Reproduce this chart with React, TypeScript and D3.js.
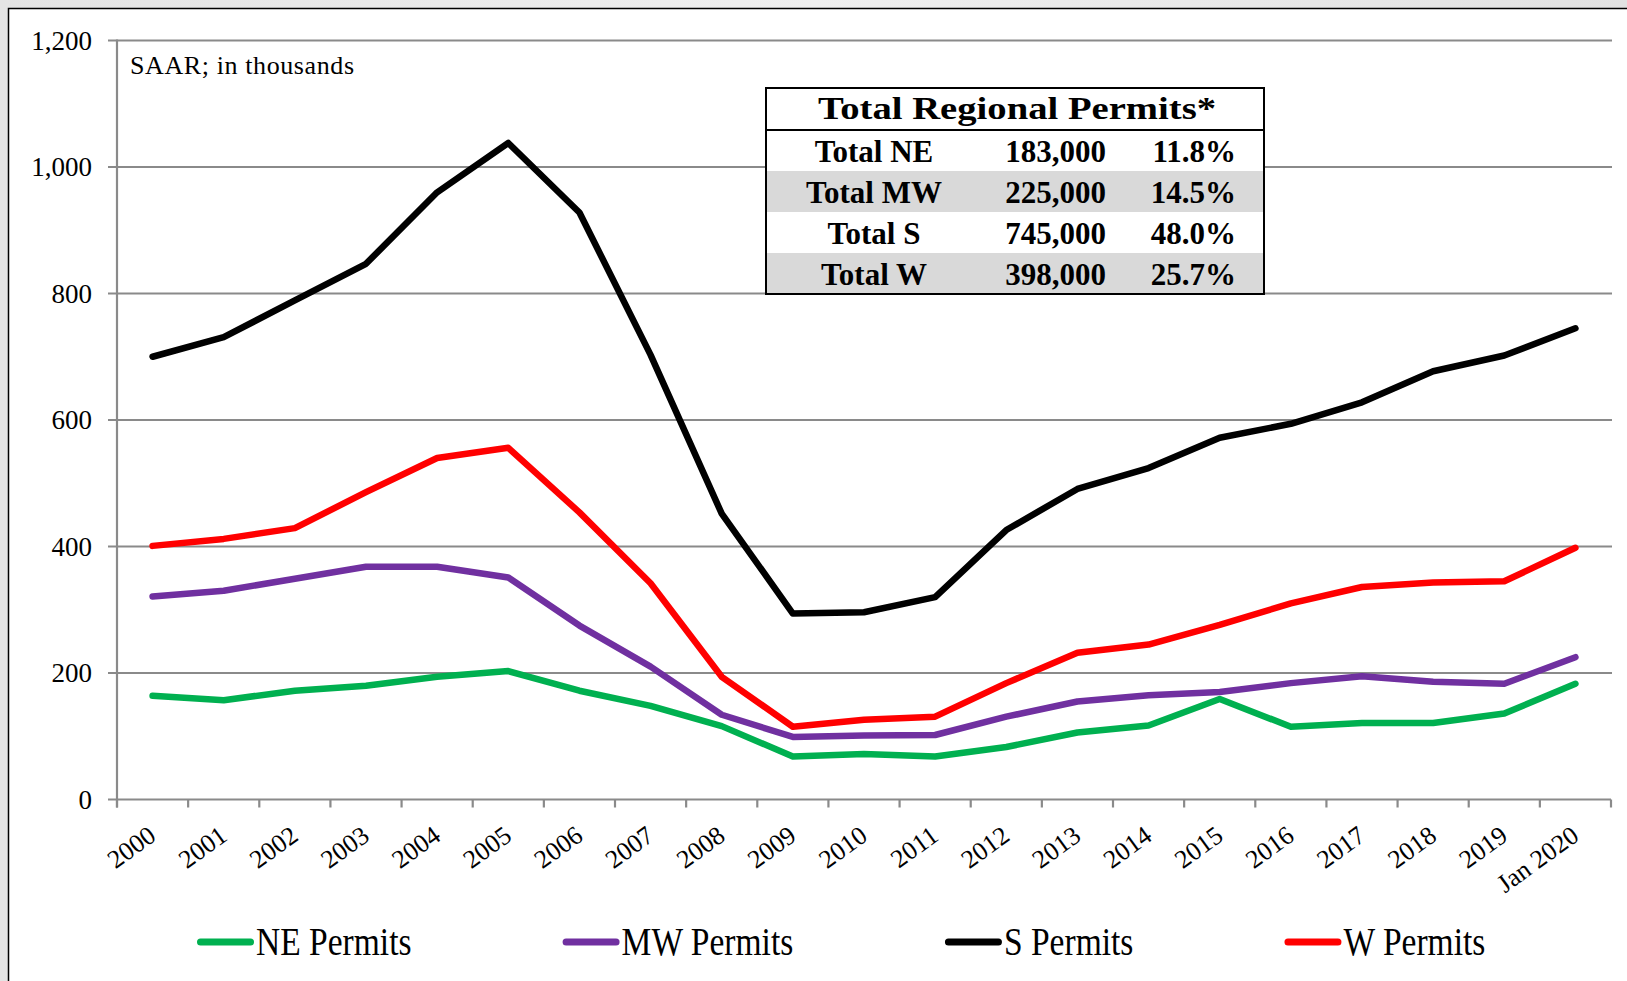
import React from "react";
import * as d3 from "d3";

// Regional building permits, SAAR, in thousands
const years = [
  "2000", "2001", "2002", "2003", "2004", "2005", "2006", "2007", "2008", "2009", "2010",
  "2011", "2012", "2013", "2014", "2015", "2016", "2017", "2018", "2019", "Jan 2020",
];
const nePermits = [164, 157, 172, 180, 194, 203, 172, 148, 116, 68, 72, 68, 83, 106, 117, 159, 115, 121, 121, 136, 183];
const mwPermits = [321, 330, 349, 368, 368, 351, 275, 210, 134, 99, 101, 102, 131, 155, 165, 170, 184, 195, 186, 183, 225];
const sPermits = [700, 731, 789, 847, 960, 1038, 928, 703, 452, 294, 296, 320, 426, 491, 524, 572, 594, 628, 677, 702, 745];
const wPermits = [401, 412, 429, 486, 540, 556, 454, 342, 194, 115, 126, 131, 184, 232, 245, 276, 310, 336, 343, 345, 398];

const seriesNames = ["NE Permits", "MW Permits", "S Permits", "W Permits"];
const seriesColors = ["#00b050", "#7030a0", "#000000", "#ff0000"];

// inset table
const tableTitle = "Total Regional Permits*";
const tableRegions = ["Total NE", "Total MW", "Total S", "Total W"];
const tableTotals = [183000, 225000, 745000, 398000];
const tableShares = [11.8, 14.5, 48.0, 25.7];

const W = 1627;
const H = 981;
const FONT = "'Liberation Serif', 'Times New Roman', serif";

const measure = (txt: string, font: string) => {
  const c = document.createElement("canvas").getContext("2d");
  if (!c) return txt.length * 15;
  c.font = font;
  return c.measureText(txt).width;
};

export default function App() {
  const x = d3.scaleBand<string>().domain(years).range([117, 1611]).paddingInner(0).paddingOuter(0);
  const y = d3.scaleLinear().domain([0, 1200]).range([799.5, 40.5]);
  const cx = (i: number) => (x(years[i]) as number) + x.bandwidth() / 2;

  const line = d3
    .line<number>()
    .x((_, i) => cx(i))
    .y((d) => y(d));

  const allSeries = [nePermits, mwPermits, sPermits, wPermits];
  const fmt = d3.format(",");
  const yTicks = y.ticks(6);

  // table geometry
  const tLeft = 766, tRight = 1264, tTop = 88, titleH = 42, rowH = 41;

  // legend layout: constant gap between items
  const legFont = 39, legScale = 0.86, swatch = 57, legGap = 151;
  let lx = 197;
  const legendItems = seriesNames.map((name, i) => {
    const tw = measure(name, `${legFont}px 'Liberation Serif'`) * legScale;
    const item = { name, color: seriesColors[i], x: lx, tw };
    lx += swatch + 2 + tw + legGap;
    return item;
  });

  return (
    <div style={{ position: "absolute", left: 0, top: 0 }}>
      <svg width={W} height={H} style={{ display: "block" }} fontFamily={FONT}>
        <defs>
          <linearGradient id="bg" x1="0" y1="0" x2="1" y2="0">
            <stop offset="0" stopColor="#e4e4e4" />
            <stop offset="0.5" stopColor="#efefef" />
            <stop offset="1" stopColor="#e2e2e2" />
          </linearGradient>
        </defs>
        <rect x={0} y={0} width={W} height={H} fill="url(#bg)" />
        <rect x={8.5} y={8.5} width={W + 20} height={H + 20} fill="#ffffff" stroke="#000" strokeWidth={1.5} />

        {/* gridlines */}
        {yTicks.map((t) => (
          <g key={t}>
            <line x1={108} x2={t === 0 ? 1611 : 1612} y1={y(t)} y2={y(t)} stroke="#8a8a8a" strokeWidth={2.2} />
            <text x={92} y={y(t) + 9} fontSize={27} textAnchor="end" fill="#000">
              {fmt(t)}
            </text>
          </g>
        ))}
        {/* y axis */}
        <line x1={117} x2={117} y1={y(1200) - 1} y2={y(0) + 8} stroke="#8a8a8a" strokeWidth={2.2} />
        {/* x ticks */}
        {d3.range(years.length + 1).map((i) => {
          const xx = 117 + i * x.bandwidth();
          return <line key={i} x1={xx} x2={xx} y1={y(0)} y2={y(0) + 8} stroke="#8a8a8a" strokeWidth={2.2} />;
        })}
        {years.map((yr, i) => (
          <text
            key={yr}
            transform={`translate(${cx(i) + 5},${839}) rotate(-36)`}
            fontSize={26}
            textAnchor="end"
            fill="#000"
          >
            {yr}
          </text>
        ))}

        <text x={130} y={74} fontSize={26} letterSpacing={0.6} fill="#000">
          SAAR; in thousands
        </text>

        {/* series */}
        {allSeries.map((s, i) => (
          <path
            key={seriesNames[i]}
            d={line(s) || ""}
            fill="none"
            stroke={seriesColors[i]}
            strokeWidth={6.5}
            strokeLinecap="round"
            strokeLinejoin="round"
          />
        ))}

        {/* inset table */}
        <g>
          <rect x={tLeft} y={tTop} width={tRight - tLeft} height={titleH + rowH * 4} fill="#fff" />
          {tableRegions.map((r, i) =>
            i % 2 === 1 ? (
              <rect key={r} x={tLeft} y={tTop + titleH + i * rowH} width={tRight - tLeft} height={rowH} fill="#d9d9d9" />
            ) : null
          )}
          <text
            x={(tLeft + tRight) / 2 + 2}
            y={tTop + 31}
            fontSize={32}
            fontWeight="bold"
            textAnchor="middle"
            textLength={398}
            lengthAdjust="spacingAndGlyphs"
          >
            {tableTitle}
          </text>
          <line x1={tLeft} x2={tRight} y1={tTop + titleH} y2={tTop + titleH} stroke="#000" strokeWidth={2} />
          {tableRegions.map((r, i) => {
            const by = tTop + titleH + i * rowH + 32;
            return (
              <g key={r} fontSize={31} fontWeight="bold" fill="#000">
                <text x={874} y={by} textAnchor="middle">{r}</text>
                <text x={1106} y={by} textAnchor="end">{fmt(tableTotals[i])}</text>
                <text x={1236} y={by} textAnchor="end">{d3.format(".1f")(tableShares[i]) + "%"}</text>
              </g>
            );
          })}
          <rect x={tLeft} y={tTop} width={tRight - tLeft} height={titleH + rowH * 4} fill="none" stroke="#000" strokeWidth={2} />
        </g>

        {/* legend */}
        {legendItems.map((it) => (
          <g key={it.name}>
            <line
              x1={it.x + 3.5}
              x2={it.x + swatch - 3.5}
              y1={942}
              y2={942}
              stroke={it.color}
              strokeWidth={7}
              strokeLinecap="round"
            />
            <text transform={`translate(${it.x + swatch + 2},955) scale(${legScale},1)`} fontSize={legFont} fill="#000">
              {it.name}
            </text>
          </g>
        ))}
      </svg>
    </div>
  );
}
